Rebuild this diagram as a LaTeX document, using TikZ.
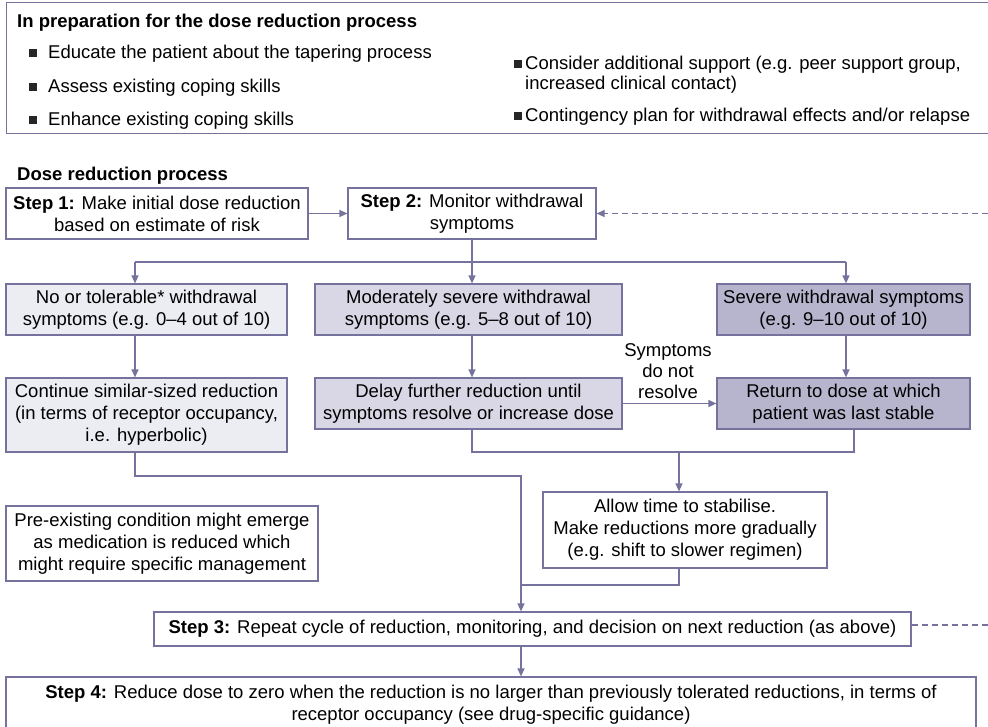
\documentclass[tikz,border=0pt]{standalone}
\usepackage{fontspec}
\setmainfont{Liberation Sans}
\usetikzlibrary{arrows.meta,calc}
\definecolor{ln}{RGB}{118,114,158}
\definecolor{fa}{RGB}{236,236,243}
\definecolor{fb}{RGB}{217,215,230}
\definecolor{fc}{RGB}{183,180,205}
\tikzset{
  box/.style={draw=ln, line width=1.2pt, inner sep=0pt, align=center},
  conn/.style={draw=ln, line width=1.2pt},
  arr/.style={conn, -{Triangle[length=8pt,width=7pt]}},
  dsh/.style={dash pattern=on 6pt off 4pt},
  sq/.style={fill=black!85, minimum size=8pt, inner sep=0pt},
  txt/.style={inner sep=0pt, anchor=base west},
}
\begin{document}
\begin{tikzpicture}[x=1pt,y=-1pt, font=\fontsize{18.5}{22}\selectfont]
\useasboundingbox (0,0) rectangle (988,726);

% preparation box
\node[inner sep=0pt, minimum width=981pt, minimum height=130pt] (prep) at (497.5,68) {};
\draw[conn] (prep.north east) -- (prep.north west) -- (prep.south west) -- (prep.south east);
\node[txt] (ptitle) at (17,27) {\textbf{In preparation for the dose reduction process}};
\node[sq] (q1) at (33,52.5) {};
\node[txt] (t1) at (48,58) {Educate the patient about the tapering process};
\node[sq] (q2) at (33,86.5) {};
\node[txt] (t2) at (48,92) {Assess existing coping skills};
\node[sq] (q3) at (33,119.5) {};
\node[txt] (t3) at (48,125) {Enhance existing coping skills};
\node[sq] (q4) at (517.5,63.5) {};
\node[txt, align=left, anchor=north west, font=\fontsize{18.5}{20}\selectfont] (t4) at (525,55.5) {Consider additional support (e.g. peer support group,\\increased clinical contact)};
\node[sq] (q5) at (517.5,115.5) {};
\node[txt] (t5) at (525,121) {Contingency plan for withdrawal effects and/or relapse};

% process
\node[txt] (dtitle) at (17,180) {\textbf{Dose reduction process}};
\node[box, minimum width=302pt, minimum height=51pt] (s1) at (157,213.5) {\textbf{Step 1:} Make initial dose reduction\\based on estimate of risk};
\node[box, minimum width=248pt, minimum height=51pt] (s2) at (472,213.5) {\textbf{Step 2:} Monitor withdrawal\\symptoms};
\draw[arr] (s1.east) -- (s2.east -| s2.west);
\coordinate (eR1) at (988,213.5);
\draw[arr, dsh] (eR1) -- (s2.east);

\node[box, fill=fa, minimum width=281pt, minimum height=51pt] (nr) at (146.5,309.5) {No or tolerable* withdrawal\\symptoms (e.g. 0–4 out of 10)};
\node[box, fill=fb, minimum width=307pt, minimum height=51pt] (mod) at (468.5,309.5) {Moderately severe withdrawal\\symptoms (e.g. 5–8 out of 10)};
\node[box, fill=fc, minimum width=253pt, minimum height=51pt] (sev) at (843.5,309.5) {Severe withdrawal symptoms\\(e.g. 9–10 out of 10)};

\node[box, fill=fa, minimum width=281pt, minimum height=74pt] (cont) at (146.5,415) {Continue similar-sized reduction\\(in terms of receptor occupancy,\\i.e. hyperbolic)};
\node[box, fill=fb, minimum width=307pt, minimum height=51pt] (delay) at (468.5,403.5) {Delay further reduction until\\symptoms resolve or increase dose};
\node[box, fill=fc, minimum width=253pt, minimum height=51pt] (ret) at (843.5,403.5) {Return to dose at which\\patient was last stable};

\coordinate (jL) at (135,262);
\coordinate (jR) at (846,262);
\draw[conn] (s2.south) -- (s2.south |- jL);
\draw[conn] (jL) -- (jR);
\draw[arr] (jL) -- (jL |- nr.north);
\draw[arr] (s2.south |- jL) -- (s2.south |- mod.north);
\draw[arr] (jR) -- (jR |- sev.north);
\draw[arr] (jL |- nr.south) -- (jL |- cont.north);
\draw[arr] (s2.south |- mod.south) -- (s2.south |- delay.north);
\draw[arr] (jR |- sev.south) -- (jR |- ret.north);
\draw[arr] (delay.east) -- (ret.west);
\node[inner sep=0pt, align=center, font=\fontsize{18.5}{21}\selectfont] (lbl) at (668,371) {Symptoms\\do not\\resolve};

\node[box, minimum width=284pt, minimum height=76pt] (allow) at (685,530) {Allow time to stabilise.\\Make reductions more gradually\\(e.g. shift to slower regimen)};
\node[box, minimum width=312pt, minimum height=75pt] (pre) at (162,543.5) {Pre-existing condition might emerge\\as medication is reduced which\\might require specific management};

\coordinate (rB) at (854,452);
\coordinate (jA) at (679,452);
\draw[conn] (s2.south |- delay.south) |- (rB) -- (rB |- ret.south);
\draw[arr] (jA) -- (jA |- allow.north);

\node[box, minimum width=757pt, minimum height=34pt] (s3) at (532.5,629) {\textbf{Step 3:} Repeat cycle of reduction, monitoring, and decision on next reduction (as above)};
\node[box, minimum width=970pt, minimum height=55pt] (s4) at (491,704.5) {\textbf{Step 4:} Reduce dose to zero when the reduction is no larger than previously tolerated reductions, in terms of\\receptor occupancy (see drug-specific guidance)};

\coordinate (jS) at (521,585);
\coordinate (jC) at (521,476);
\draw[conn] (jA |- allow.south) |- (jS);
\draw[arr] (jL |- cont.south) |- (jC) -- (jC |- s3.north);
\draw[arr] (jS |- s3.south) -- (jS |- s4.north);
\coordinate (eR2) at (988,625);
\draw[conn, dsh] ($(s3.east)+(0,-4)$) -- (eR2);
\end{tikzpicture}
\end{document}
